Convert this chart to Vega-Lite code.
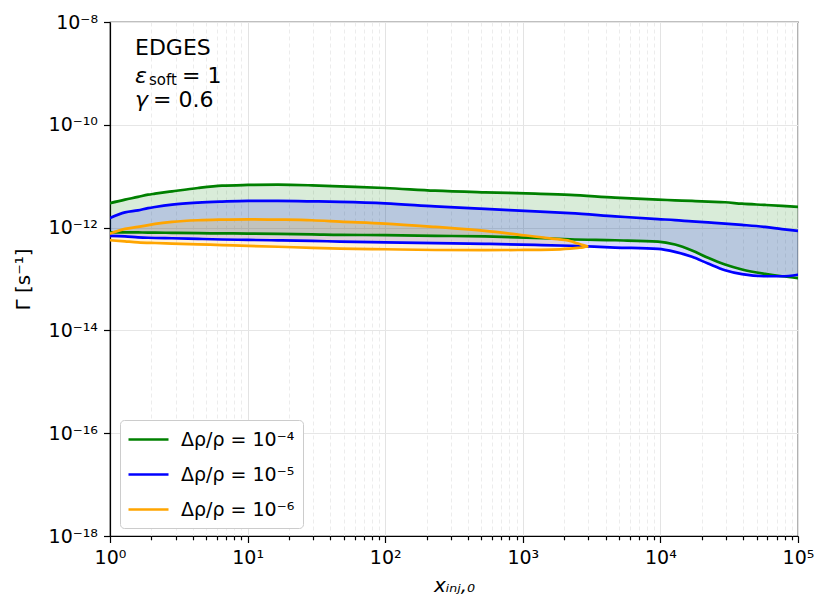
{
  "$schema": "https://vega.github.io/schema/vega-lite/v6.json",
  "width": 688,
  "height": 514,
  "autosize": {"type": "none"},
  "padding": {"left": 110, "top": 22, "right": 32, "bottom": 75},
  "background": "white",
  "config": {
    "font": "DejaVu Sans",
    "view": {"stroke": "black", "strokeWidth": 1.2},
    "axis": {
      "domainColor": "black", "domainWidth": 1.2,
      "tickColor": "black", "tickWidth": 1.2,
      "labelColor": "black", "titleColor": "black",
      "labelFont": "DejaVu Sans", "titleFont": "DejaVu Sans",
      "labelFontSize": 19, "titleFontSize": 19, "titleFontWeight": "normal",
      "gridColor": "#e6e6e6", "gridWidth": 1
    }
  },
  "datasets": {
    "bands": [
      {"s": "Δρ/ρ = 10⁻⁴", "x": 1, "lo": 8.10e-13, "hi": 2.99e-12},
      {"s": "Δρ/ρ = 10⁻⁴", "x": 1.285, "lo": 8.10e-13, "hi": 3.50e-12},
      {"s": "Δρ/ρ = 10⁻⁴", "x": 1.598, "lo": 8.07e-13, "hi": 3.95e-12},
      {"s": "Δρ/ρ = 10⁻⁴", "x": 1.889, "lo": 8.00e-13, "hi": 4.37e-12},
      {"s": "Δρ/ρ = 10⁻⁴", "x": 2.123, "lo": 8.00e-13, "hi": 4.57e-12},
      {"s": "Δρ/ρ = 10⁻⁴", "x": 2.822, "lo": 7.89e-13, "hi": 5.07e-12},
      {"s": "Δρ/ρ = 10⁻⁴", "x": 4.36, "lo": 7.79e-13, "hi": 5.90e-12},
      {"s": "Δρ/ρ = 10⁻⁴", "x": 6.516, "lo": 7.72e-13, "hi": 6.54e-12},
      {"s": "Δρ/ρ = 10⁻⁴", "x": 10.07, "lo": 7.65e-13, "hi": 6.75e-12},
      {"s": "Δρ/ρ = 10⁻⁴", "x": 16.63, "lo": 7.55e-13, "hi": 6.84e-12},
      {"s": "Δρ/ρ = 10⁻⁴", "x": 29.38, "lo": 7.41e-13, "hi": 6.63e-12},
      {"s": "Δρ/ρ = 10⁻⁴", "x": 46.95, "lo": 7.22e-13, "hi": 6.34e-12},
      {"s": "Δρ/ρ = 10⁻⁴", "x": 99.7, "lo": 7.15e-13, "hi": 5.90e-12},
      {"s": "Δρ/ρ = 10⁻⁴", "x": 230.1, "lo": 6.93e-13, "hi": 5.23e-12},
      {"s": "Δρ/ρ = 10⁻⁴", "x": 531.3, "lo": 6.72e-13, "hi": 4.85e-12},
      {"s": "Δρ/ρ = 10⁻⁴", "x": 1227, "lo": 6.31e-13, "hi": 4.57e-12},
      {"s": "Δρ/ρ = 10⁻⁴", "x": 2203, "lo": 5.93e-13, "hi": 4.32e-12},
      {"s": "Δρ/ρ = 10⁻⁴", "x": 4678, "lo": 5.67e-13, "hi": 3.82e-12},
      {"s": "Δρ/ρ = 10⁻⁴", "x": 9607, "lo": 5.35e-13, "hi": 3.50e-12},
      {"s": "Δρ/ρ = 10⁻⁴", "x": 12767, "lo": 4.68e-13, "hi": 3.40e-12},
      {"s": "Δρ/ρ = 10⁻⁴", "x": 16970, "lo": 3.58e-13, "hi": 3.30e-12},
      {"s": "Δρ/ρ = 10⁻⁴", "x": 22180, "lo": 2.58e-13, "hi": 3.20e-12},
      {"s": "Δρ/ρ = 10⁻⁴", "x": 29480, "lo": 1.91e-13, "hi": 3.11e-12},
      {"s": "Δρ/ρ = 10⁻⁴", "x": 39180, "lo": 1.53e-13, "hi": 2.92e-12},
      {"s": "Δρ/ρ = 10⁻⁴", "x": 57570, "lo": 1.26e-13, "hi": 2.76e-12},
      {"s": "Δρ/ρ = 10⁻⁴", "x": 76500, "lo": 1.13e-13, "hi": 2.64e-12},
      {"s": "Δρ/ρ = 10⁻⁴", "x": 100000, "lo": 1.04e-13, "hi": 2.52e-12},
      {"s": "Δρ/ρ = 10⁻⁵", "x": 1, "lo": 6.90e-13, "hi": 1.54e-12},
      {"s": "Δρ/ρ = 10⁻⁵", "x": 1.285, "lo": 6.75e-13, "hi": 1.98e-12},
      {"s": "Δρ/ρ = 10⁻⁵", "x": 1.598, "lo": 6.48e-13, "hi": 2.17e-12},
      {"s": "Δρ/ρ = 10⁻⁵", "x": 1.889, "lo": 6.34e-13, "hi": 2.39e-12},
      {"s": "Δρ/ρ = 10⁻⁵", "x": 2.123, "lo": 6.28e-13, "hi": 2.52e-12},
      {"s": "Δρ/ρ = 10⁻⁵", "x": 2.822, "lo": 6.20e-13, "hi": 2.80e-12},
      {"s": "Δρ/ρ = 10⁻⁵", "x": 4.36, "lo": 6.03e-13, "hi": 3.06e-12},
      {"s": "Δρ/ρ = 10⁻⁵", "x": 6.516, "lo": 5.87e-13, "hi": 3.20e-12},
      {"s": "Δρ/ρ = 10⁻⁵", "x": 10.07, "lo": 5.77e-13, "hi": 3.30e-12},
      {"s": "Δρ/ρ = 10⁻⁵", "x": 16.63, "lo": 5.64e-13, "hi": 3.30e-12},
      {"s": "Δρ/ρ = 10⁻⁵", "x": 29.38, "lo": 5.51e-13, "hi": 3.24e-12},
      {"s": "Δρ/ρ = 10⁻⁵", "x": 46.95, "lo": 5.35e-13, "hi": 3.16e-12},
      {"s": "Δρ/ρ = 10⁻⁵", "x": 99.7, "lo": 5.18e-13, "hi": 2.96e-12},
      {"s": "Δρ/ρ = 10⁻⁵", "x": 230.1, "lo": 5.00e-13, "hi": 2.59e-12},
      {"s": "Δρ/ρ = 10⁻⁵", "x": 531.3, "lo": 4.83e-13, "hi": 2.31e-12},
      {"s": "Δρ/ρ = 10⁻⁵", "x": 1227, "lo": 4.61e-13, "hi": 2.07e-12},
      {"s": "Δρ/ρ = 10⁻⁵", "x": 2203, "lo": 4.43e-13, "hi": 1.91e-12},
      {"s": "Δρ/ρ = 10⁻⁵", "x": 4678, "lo": 4.09e-13, "hi": 1.66e-12},
      {"s": "Δρ/ρ = 10⁻⁵", "x": 9607, "lo": 3.86e-13, "hi": 1.46e-12},
      {"s": "Δρ/ρ = 10⁻⁵", "x": 12767, "lo": 3.38e-13, "hi": 1.40e-12},
      {"s": "Δρ/ρ = 10⁻⁵", "x": 16970, "lo": 2.70e-13, "hi": 1.32e-12},
      {"s": "Δρ/ρ = 10⁻⁵", "x": 22180, "lo": 2.00e-13, "hi": 1.26e-12},
      {"s": "Δρ/ρ = 10⁻⁵", "x": 29480, "lo": 1.48e-13, "hi": 1.20e-12},
      {"s": "Δρ/ρ = 10⁻⁵", "x": 39180, "lo": 1.24e-13, "hi": 1.13e-12},
      {"s": "Δρ/ρ = 10⁻⁵", "x": 57570, "lo": 1.13e-13, "hi": 1.03e-12},
      {"s": "Δρ/ρ = 10⁻⁵", "x": 76500, "lo": 1.13e-13, "hi": 9.35e-13},
      {"s": "Δρ/ρ = 10⁻⁵", "x": 100000, "lo": 1.21e-13, "hi": 8.63e-13},
      {"s": "Δρ/ρ = 10⁻⁶", "x": 1, "lo": 5.67e-13, "hi": 7.65e-13},
      {"s": "Δρ/ρ = 10⁻⁶", "x": 1.285, "lo": 5.40e-13, "hi": 9.44e-13},
      {"s": "Δρ/ρ = 10⁻⁶", "x": 1.598, "lo": 5.18e-13, "hi": 1.03e-12},
      {"s": "Δρ/ρ = 10⁻⁶", "x": 2.123, "lo": 5.02e-13, "hi": 1.18e-12},
      {"s": "Δρ/ρ = 10⁻⁶", "x": 2.822, "lo": 4.89e-13, "hi": 1.29e-12},
      {"s": "Δρ/ρ = 10⁻⁶", "x": 4.36, "lo": 4.72e-13, "hi": 1.39e-12},
      {"s": "Δρ/ρ = 10⁻⁶", "x": 6.516, "lo": 4.57e-13, "hi": 1.43e-12},
      {"s": "Δρ/ρ = 10⁻⁶", "x": 10.07, "lo": 4.41e-13, "hi": 1.45e-12},
      {"s": "Δρ/ρ = 10⁻⁶", "x": 16.63, "lo": 4.24e-13, "hi": 1.43e-12},
      {"s": "Δρ/ρ = 10⁻⁶", "x": 29.38, "lo": 4.05e-13, "hi": 1.39e-12},
      {"s": "Δρ/ρ = 10⁻⁶", "x": 46.95, "lo": 3.91e-13, "hi": 1.31e-12},
      {"s": "Δρ/ρ = 10⁻⁶", "x": 99.7, "lo": 3.79e-13, "hi": 1.20e-12},
      {"s": "Δρ/ρ = 10⁻⁶", "x": 230.1, "lo": 3.67e-13, "hi": 1.03e-12},
      {"s": "Δρ/ρ = 10⁻⁶", "x": 531.3, "lo": 3.64e-13, "hi": 8.63e-13},
      {"s": "Δρ/ρ = 10⁻⁶", "x": 922.8, "lo": 3.67e-13, "hi": 7.31e-13},
      {"s": "Δρ/ρ = 10⁻⁶", "x": 1630, "lo": 3.74e-13, "hi": 6.11e-13},
      {"s": "Δρ/ρ = 10⁻⁶", "x": 2203, "lo": 3.91e-13, "hi": 5.47e-13},
      {"s": "Δρ/ρ = 10⁻⁶", "x": 2519, "lo": 4.03e-13, "hi": 4.89e-13},
      {"s": "Δρ/ρ = 10⁻⁶", "x": 2739, "lo": 4.12e-13, "hi": 4.59e-13},
      {"s": "Δρ/ρ = 10⁻⁶", "x": 2928, "lo": 4.33e-13, "hi": 4.33e-13}
    ]
  },
  "layer": [
    {
      "data": {"name": "bands"},
      "transform": [{"filter": "datum.s === 'Δρ/ρ = 10⁻⁴'"}],
      "mark": {"type": "area", "fill": "#008000", "fillOpacity": 0.15, "interpolate": "monotone", "clip": true},
      "encoding": {
        "x": {
          "field": "x", "type": "quantitative",
          "scale": {"type": "log", "domain": [1, 100000], "nice": false},
          "axis": {
            "title": "xᵢₙⱼ,₀",
            "titleFontStyle": "italic",
            "titleFontSize": 20,
            "values": [1,2,3,4,5,6,7,8,9,10,20,30,40,50,60,70,80,90,100,200,300,400,500,600,700,800,900,1000,2000,3000,4000,5000,6000,7000,8000,9000,10000,20000,30000,40000,50000,60000,70000,80000,90000,100000],
            "labelExpr": "abs(log(datum.value)/LN10 - round(log(datum.value)/LN10)) < 0.001 ? '10' + replace(replace(replace(replace(replace(replace(replace(replace(replace(replace(replace('' + round(log(datum.value)/LN10),'-','⁻'),'0','⁰'),'1','¹'),'2','²'),'3','³'),'4','⁴'),'5','⁵'),'6','⁶'),'7','⁷'),'8','⁸'),'9','⁹') : ''",
            "labelFlush": false,
            "labelOverlap": false,
            "labelPadding": 6,
            "titlePadding": 8,
            "tickSize": {"condition": {"test": "abs(log(datum.value)/LN10 - round(log(datum.value)/LN10)) < 0.001", "value": 6.5}, "value": 3.8},
            "gridDash": {"condition": {"test": "abs(log(datum.value)/LN10 - round(log(datum.value)/LN10)) < 0.001", "value": []}, "value": [4, 3]},
            "gridColor": {"condition": {"test": "abs(log(datum.value)/LN10 - round(log(datum.value)/LN10)) < 0.001", "value": "#e3e3e3"}, "value": "#ececec"}
          }
        },
        "y": {
          "field": "lo", "type": "quantitative", "stack": null,
          "scale": {"type": "log", "domain": [1e-18, 1e-8], "nice": false},
          "axis": {
            "title": "Γ [s⁻¹]",
            "titleFontSize": 20,
            "values": [1e-18, 1e-16, 1e-14, 1e-12, 1e-10, 1e-8],
            "labelExpr": "'10' + replace(replace(replace(replace(replace(replace(replace(replace(replace(replace(replace('' + round(log(datum.value)/LN10),'-','⁻'),'0','⁰'),'1','¹'),'2','²'),'3','³'),'4','⁴'),'5','⁵'),'6','⁶'),'7','⁷'),'8','⁸'),'9','⁹')",
            "labelOverlap": false,
            "labelFlush": false,
            "tickSize": 6.5,
            "labelPadding": 6,
            "titlePadding": 15
          }
        },
        "y2": {"field": "hi"}
      }
    },
    {
      "data": {"name": "bands"},
      "transform": [{"filter": "datum.s === 'Δρ/ρ = 10⁻⁵'"}],
      "mark": {"type": "area", "fill": "#0000ff", "fillOpacity": 0.15, "interpolate": "monotone", "clip": true},
      "encoding": {
        "x": {"field": "x", "type": "quantitative"},
        "y": {"field": "lo", "type": "quantitative", "stack": null},
        "y2": {"field": "hi"}
      }
    },
    {
      "data": {"name": "bands"},
      "transform": [{"filter": "datum.s === 'Δρ/ρ = 10⁻⁶'"}],
      "mark": {"type": "area", "fill": "#ffa500", "fillOpacity": 0.15, "interpolate": "monotone", "clip": true},
      "encoding": {
        "x": {"field": "x", "type": "quantitative"},
        "y": {"field": "lo", "type": "quantitative", "stack": null},
        "y2": {"field": "hi"}
      }
    },
    {
      "data": {"name": "bands"},
      "transform": [{"fold": ["lo", "hi"], "as": ["bound", "val"]}],
      "mark": {"type": "line", "strokeWidth": 2.7, "interpolate": "monotone", "clip": true, "strokeCap": "round", "strokeJoin": "round"},
      "encoding": {
        "x": {"field": "x", "type": "quantitative"},
        "y": {"field": "val", "type": "quantitative"},
        "detail": {"field": "bound"},
        "stroke": {
          "field": "s", "type": "nominal",
          "scale": {"domain": ["Δρ/ρ = 10⁻⁴", "Δρ/ρ = 10⁻⁵", "Δρ/ρ = 10⁻⁶"], "range": ["#008000", "#0000ff", "#ffa500"]},
          "legend": {
            "title": null, "orient": "none", "legendX": 10, "legendY": 398,
            "symbolType": "M-2,0H2", "symbolSize": 400, "symbolStrokeWidth": 2.7, "symbolOffset": 9,
            "labelFontSize": 19, "labelFont": "DejaVu Sans", "labelColor": "black",
            "padding": 8, "strokeColor": "#cccccc", "fillColor": "white", "cornerRadius": 4,
            "rowPadding": 13, "labelOffset": 21
          }
        }
      }
    },
    {
      "data": {"values": [{"x": 1.52, "y": 2.29e-9, "t": "EDGES"}]},
      "mark": {"type": "text", "align": "left", "baseline": "alphabetic", "fontSize": 22, "color": "black"},
      "encoding": {
        "x": {"field": "x", "type": "quantitative"},
        "y": {"field": "y", "type": "quantitative"},
        "text": {"field": "t"}
      }
    },
    {
      "data": {"values": [{"x": 1.52, "y": 6.62e-10, "t": "ε"}, {"x": 1.52, "y": 2.21e-10, "t": "γ"}]},
      "mark": {"type": "text", "align": "left", "baseline": "alphabetic", "fontSize": 22, "fontStyle": "italic", "color": "black"},
      "encoding": {
        "x": {"field": "x", "type": "quantitative"},
        "y": {"field": "y", "type": "quantitative"},
        "text": {"field": "t"}
      }
    },
    {
      "data": {"values": [{"x": 1.52, "y": 6.62e-10, "t": "soft"}]},
      "mark": {"type": "text", "align": "left", "baseline": "alphabetic", "fontSize": 15, "dx": 14, "dy": 2, "color": "black"},
      "encoding": {
        "x": {"field": "x", "type": "quantitative"},
        "y": {"field": "y", "type": "quantitative"},
        "text": {"field": "t"}
      }
    },
    {
      "data": {"values": [{"x": 1.52, "y": 6.62e-10, "t": "= 1"}]},
      "mark": {"type": "text", "align": "left", "baseline": "alphabetic", "fontSize": 22, "dx": 47, "color": "black"},
      "encoding": {
        "x": {"field": "x", "type": "quantitative"},
        "y": {"field": "y", "type": "quantitative"},
        "text": {"field": "t"}
      }
    },
    {
      "data": {"values": [{"x": 1.52, "y": 2.21e-10, "t": "= 0.6"}]},
      "mark": {"type": "text", "align": "left", "baseline": "alphabetic", "fontSize": 22, "dx": 18, "color": "black"},
      "encoding": {
        "x": {"field": "x", "type": "quantitative"},
        "y": {"field": "y", "type": "quantitative"},
        "text": {"field": "t"}
      }
    }
  ]
}
